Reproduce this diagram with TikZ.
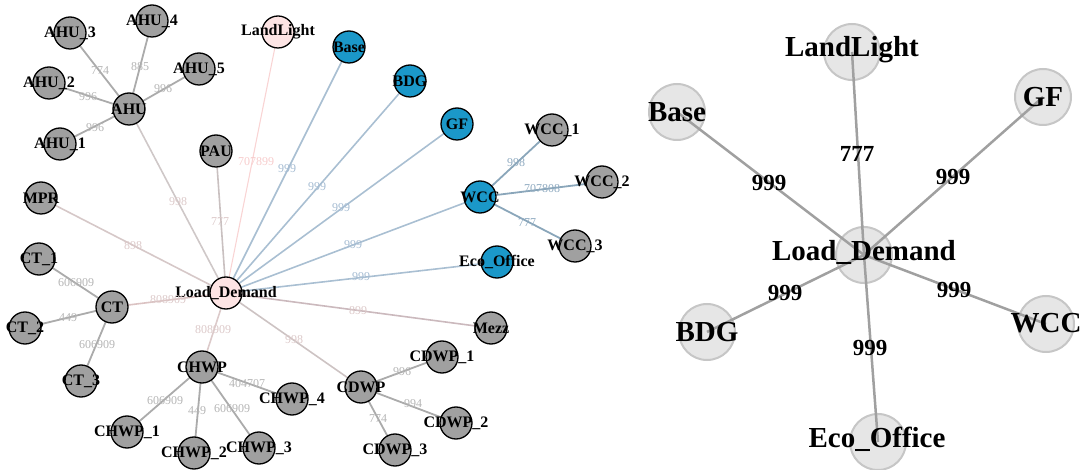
\documentclass[tikz,border=0pt]{standalone}
\usepackage{fontspec}
\setmainfont{Liberation Serif}
\usetikzlibrary{backgrounds}
\definecolor{ndgray}{RGB}{160,160,160}
\definecolor{ndblue}{RGB}{27,152,201}
\definecolor{ndpink}{RGB}{253,228,228}
\definecolor{egray}{RGB}{171,171,171}
\definecolor{ewcc}{RGB}{138,166,186}
\definecolor{eblue}{RGB}{169,191,210}
\definecolor{elight}{RGB}{249,212,212}
\definecolor{epink}{RGB}{214,200,200}
\definecolor{emauve}{RGB}{203,185,189}
\definecolor{eahu}{RGB}{207,200,200}
\definecolor{epau}{RGB}{201,192,192}
\definecolor{ect}{RGB}{219,195,195}
\definecolor{echwp}{RGB}{220,202,202}
\definecolor{ecdwp}{RGB}{205,195,195}
\definecolor{tgray}{RGB}{181,181,181}
\definecolor{tpink}{RGB}{220,201,201}
\definecolor{tblue}{RGB}{165,188,210}
\definecolor{tlight}{RGB}{247,204,204}
\definecolor{twcc}{RGB}{143,170,192}
\definecolor{rfill}{RGB}{230,230,230}
\definecolor{rdraw}{RGB}{198,198,198}
\definecolor{redge}{RGB}{160,160,160}
\begin{document}
\begin{tikzpicture}[x=1pt,y=-1pt,
  lnode/.style={circle, draw=black, line width=1.3pt, minimum size=32pt, inner sep=0pt},
  gnode/.style={lnode, fill=ndgray},
  bnode/.style={lnode, fill=ndblue},
  pnode/.style={lnode, fill=ndpink},
  ltext/.style={font=\bfseries\fontsize{16}{16}\selectfont, text=black, inner sep=0pt},
  elbl/.style={font=\fontsize{12}{12}\selectfont, inner sep=0pt},
  ge/.style={draw=egray, line width=1.8pt},
  we/.style={draw=ewcc, line width=1.8pt},
  be/.style={draw=eblue, line width=1.6pt},
  pe/.style={draw=epink, line width=1.6pt},
  rnode/.style={circle, fill=rfill, draw=rdraw, line width=2pt, minimum size=56pt, inner sep=0pt},
  rtext/.style={font=\bfseries\fontsize{29}{29}\selectfont, text=black, inner sep=0pt},
  re/.style={draw=redge, line width=2.5pt},
  rlbl/.style={font=\bfseries\fontsize{23}{23}\selectfont, text=black, inner sep=0pt}
]
\useasboundingbox (0,0) rectangle (1088,470);

% ---------------- left graph: nodes ----------------
\node[pnode, label={[ltext]center:Load\_Demand}] (ld) at (226,293) {};
\node[gnode, label={[ltext]center:AHU}] (ahu) at (129,109) {};
\node[gnode, label={[ltext]center:AHU\_1}] (ahu1) at (60,144) {};
\node[gnode, label={[ltext]center:AHU\_2}] (ahu2) at (49,83) {};
\node[gnode, label={[ltext]center:AHU\_3}] (ahu3) at (70,33) {};
\node[gnode, label={[ltext]center:AHU\_4}] (ahu4) at (152,21) {};
\node[gnode, label={[ltext]center:AHU\_5}] (ahu5) at (199,69) {};
\node[pnode, label={[ltext]center:LandLight}] (land) at (278,32) {};
\node[gnode, label={[ltext]center:PAU}] (pau) at (216,151) {};
\node[bnode, label={[ltext]center:Base}] (base) at (349,47) {};
\node[bnode, label={[ltext]center:BDG}] (bdg) at (410,81) {};
\node[bnode, label={[ltext]center:GF}] (gf) at (457,124) {};
\node[bnode, label={[ltext]center:WCC}] (wcc) at (480,197) {};
\node[gnode, label={[ltext]center:WCC\_1}] (wcc1) at (552,130) {};
\node[gnode, label={[ltext]center:WCC\_2}] (wcc2) at (602,182) {};
\node[gnode, label={[ltext]center:WCC\_3}] (wcc3) at (575,246) {};
\node[bnode, label={[ltext]center:Eco\_Office}] (eco) at (497,262) {};
\node[gnode, label={[ltext]center:MPR}] (mpr) at (41,198) {};
\node[gnode, label={[ltext]center:CT}] (ct) at (112,307) {};
\node[gnode, label={[ltext]center:CT\_1}] (ct1) at (39,259) {};
\node[gnode, label={[ltext]center:CT\_2}] (ct2) at (25,328) {};
\node[gnode, label={[ltext]center:CT\_3}] (ct3) at (81,381) {};
\node[gnode, label={[ltext]center:Mezz}] (mezz) at (491,328) {};
\node[gnode, label={[ltext]center:CHWP}] (chwp) at (202,367) {};
\node[gnode, label={[ltext]center:CHWP\_1}] (chwp1) at (127,432) {};
\node[gnode, label={[ltext]center:CHWP\_2}] (chwp2) at (194,453) {};
\node[gnode, label={[ltext]center:CHWP\_3}] (chwp3) at (259,448) {};
\node[gnode, label={[ltext]center:CHWP\_4}] (chwp4) at (292,399) {};
\node[gnode, label={[ltext]center:CDWP}] (cdwp) at (361,387) {};
\node[gnode, label={[ltext]center:CDWP\_1}] (cdwp1) at (442,357) {};
\node[gnode, label={[ltext]center:CDWP\_2}] (cdwp2) at (456,423) {};
\node[gnode, label={[ltext]center:CDWP\_3}] (cdwp3) at (395,450) {};

% ---------------- left graph: edges ----------------
\begin{pgfonlayer}{background}
\draw[ge] (ahu.center) -- (ahu1.center);
\draw[ge] (ahu.center) -- (ahu2.center);
\draw[ge] (ahu.center) -- (ahu3.center);
\draw[ge] (ahu.center) -- (ahu4.center);
\draw[ge] (ahu.center) -- (ahu5.center);
\draw[ge] (ct.center) -- (ct1.center);
\draw[ge] (ct.center) -- (ct2.center);
\draw[ge] (ct.center) -- (ct3.center);
\draw[ge] (chwp.center) -- (chwp1.center);
\draw[ge] (chwp.center) -- (chwp2.center);
\draw[ge] (chwp.center) -- (chwp3.center);
\draw[ge] (chwp.center) -- (chwp4.center);
\draw[ge] (cdwp.center) -- (cdwp1.center);
\draw[ge] (cdwp.center) -- (cdwp2.center);
\draw[ge] (cdwp.center) -- (cdwp3.center);
\draw[we] (wcc.center) -- (wcc1.center);
\draw[we] (wcc.center) -- (wcc2.center);
\draw[we] (wcc.center) -- (wcc3.center);
\draw[be] (ld.center) -- (base.center);
\draw[be] (ld.center) -- (bdg.center);
\draw[be] (ld.center) -- (gf.center);
\draw[be] (ld.center) -- (wcc.center);
\draw[be] (ld.center) -- (eco.center);
\draw[draw=elight, line width=1.1pt] (ld.center) -- (land.center);
\draw[pe, draw=eahu] (ld.center) -- (ahu.center);
\draw[pe, draw=epau] (ld.center) -- (pau.center);
\draw[pe] (ld.center) -- (mpr.center);
\draw[pe, draw=ect] (ld.center) -- (ct.center);
\draw[pe, draw=emauve] (ld.center) -- (mezz.center);
\draw[pe, draw=echwp] (ld.center) -- (chwp.center);
\draw[pe, draw=ecdwp] (ld.center) -- (cdwp.center);
\end{pgfonlayer}

% ---------------- left graph: edge labels ----------------
\node[elbl, text=tgray] (l-a1) at (95,128) {996};
\node[elbl, text=tgray] (l-a2) at (88,97) {996};
\node[elbl, text=tgray] (l-a3) at (100,71) {774};
\node[elbl, text=tgray] (l-a4) at (140,67) {885};
\node[elbl, text=tgray] (l-a5) at (163,89) {996};
\node[elbl, text=tpink] (l-ahu) at (178,202) {998};
\node[elbl, text=tlight] (l-land) at (256,162) {707899};
\node[elbl, text=tpink] (l-pau) at (220,222) {777};
\node[elbl, text=tblue] (l-base) at (287,169) {999};
\node[elbl, text=tblue] (l-bdg) at (317,187) {999};
\node[elbl, text=tblue] (l-gf) at (341,208) {999};
\node[elbl, text=tblue] (l-wcc) at (353,245) {999};
\node[elbl, text=tblue] (l-eco) at (361,277) {999};
\node[elbl, text=twcc] (l-w1) at (516,163) {998};
\node[elbl, text=twcc] (l-w2) at (542,189) {707808};
\node[elbl, text=twcc] (l-w3) at (527,223) {777};
\node[elbl, text=tpink] (l-mpr) at (133,246) {898};
\node[elbl, text=tpink] (l-ct) at (168,300) {808909};
\node[elbl, text=tgray] (l-c1) at (76,283) {606909};
\node[elbl, text=tgray] (l-c2) at (68,318) {449};
\node[elbl, text=tgray] (l-c3) at (97,345) {606909};
\node[elbl, text=tpink] (l-chwp) at (213,330) {808909};
\node[elbl, text=tpink] (l-mezz) at (358,311) {899};
\node[elbl, text=tpink] (l-cdwp) at (294,340) {998};
\node[elbl, text=tgray] (l-h1) at (165,401) {606909};
\node[elbl, text=tgray] (l-h2) at (197,411) {449};
\node[elbl, text=tgray] (l-h3) at (232,409) {606909};
\node[elbl, text=tgray] (l-h4) at (247,384) {404707};
\node[elbl, text=tgray] (l-d1) at (402,372) {996};
\node[elbl, text=tgray] (l-d2) at (413,404) {994};
\node[elbl, text=tgray] (l-d3) at (378,419) {774};

% ---------------- right graph ----------------
\node[rnode] (rld) at (864,255) {};
\node[rnode] (rland) at (852,52) {};
\node[rnode] (rbase) at (677,112) {};
\node[rnode] (rgf) at (1043,97) {};
\node[rnode] (rbdg) at (707,332) {};
\node[rnode] (rwcc) at (1046,324) {};
\node[rnode] (reco) at (878,442) {};

\draw[re] (rld.center) -- (rland.center);
\draw[re] (rld.center) -- (rbase.center);
\draw[re] (rld.center) -- (rgf.center);
\draw[re] (rld.center) -- (rbdg.center);
\draw[re] (rld.center) -- (rwcc.center);
\draw[re] (rld.center) -- (reco.center);

\node[rtext] (rld-t) at (864,252) {Load\_Demand};
\node[rtext] (rland-t) at (852,50) {LandLight};
\node[rtext] (rbase-t) at (677,112) {Base};
\node[rtext] (rgf-t) at (1043,97) {GF};
\node[rtext] (rbdg-t) at (707,332) {BDG};
\node[rtext] (rwcc-t) at (1046,323) {WCC};
\node[rtext] (reco-t) at (877,439) {Eco\_Office};

\node[rlbl] (r-land) at (857,154) {777};
\node[rlbl] (r-base) at (769,183) {999};
\node[rlbl] (r-gf) at (953,177) {999};
\node[rlbl] (r-bdg) at (785,293) {999};
\node[rlbl] (r-wcc) at (954,290) {999};
\node[rlbl] (r-eco) at (870,348) {999};
\end{tikzpicture}
\end{document}
